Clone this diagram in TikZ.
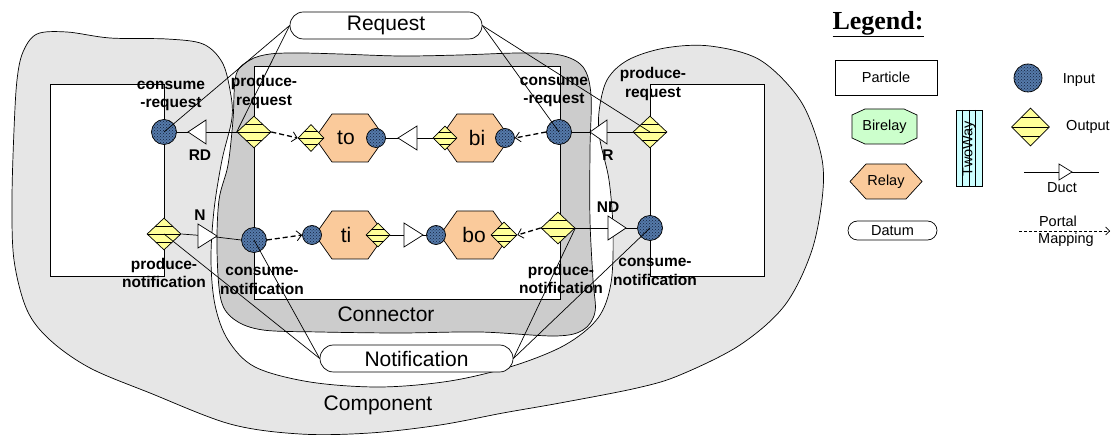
\documentclass[tikz,border=0pt]{standalone}
\usepackage{fontspec}
\setmainfont{Liberation Sans}
\newfontfamily\legendfont{Liberation Serif}
\usetikzlibrary{calc,arrows.meta,shapes.geometric,patterns}
\definecolor{compgray}{RGB}{230,230,230}
\definecolor{conngray}{RGB}{204,204,204}
\definecolor{relayc}{RGB}{250,202,155}
\definecolor{birelayc}{RGB}{204,255,204}
\definecolor{twowayc}{RGB}{204,255,255}
\definecolor{outc}{RGB}{255,255,153}
\definecolor{incl}{RGB}{85,122,170}
\definecolor{incd}{RGB}{20,32,60}
\newcommand\hexat[5]{\filldraw[fill=relayc] (#1-#3,#2) -- (#1-#3+#5,#2-#4) -- (#1+#3-#5,#2-#4) -- (#1+#3,#2) -- (#1+#3-#5,#2+#4) -- (#1-#3+#5,#2+#4) -- cycle;}
\newcommand\ductR[3]{\filldraw[fill=white] ($(#1)+(#2,0)$) -- ($(#1)+(-#2,-#3)$) -- ($(#1)+(-#2,#3)$) -- cycle;}
\newcommand\ductL[3]{\filldraw[fill=white] ($(#1)+(-#2,0)$) -- ($(#1)+(#2,-#3)$) -- ($(#1)+(#2,#3)$) -- cycle;}
\begin{document}
\begin{tikzpicture}[x=1pt,y=-1pt,line width=0.7pt,
  every node/.style={inner sep=0pt},
  inport/.style={circle,draw,preaction={fill=incl},pattern=crosshatch dots,pattern color=incd,minimum size=#1},
  inport/.default=25pt,
  outport/.style 2 args={diamond,draw,fill=outc,minimum width=#1,minimum height=#2,
    path picture={\draw[line width=0.5pt]
      ($(path picture bounding box.north west)!0.25!(path picture bounding box.south west)$) -- ($(path picture bounding box.north east)!0.25!(path picture bounding box.south east)$)
      (path picture bounding box.west) -- (path picture bounding box.east)
      ($(path picture bounding box.north west)!0.75!(path picture bounding box.south west)$) -- ($(path picture bounding box.north east)!0.75!(path picture bounding box.south east)$);}},
  lbl/.style={font=\bfseries\fontsize{15.5}{18.5}\selectfont,align=center},
  big/.style={font=\fontsize{21}{25}\selectfont},
  leg/.style={font=\fontsize{14.5}{17}\selectfont},
  datum/.style={draw,fill=white,rounded corners=#1},
  portal/.style={dash pattern=on 5pt off 3pt,line width=1.3pt,-{Straight Barb[length=5pt,width=10pt,line width=0.8pt]}},
  particle/.style={draw,fill=white}
]
\useasboundingbox (0,0) rectangle (1112,435);

% Component blob
\filldraw[fill=compgray] plot[smooth cycle, tension=0.55] coordinates {
 (23,52) (37,34) (67,32) (110,38) (167,39) (203,44) (222,62) (230,90) (232,118)
 (222,160) (214,210) (211,260) (215,305) (228,340) (255,367) (310,382) (380,387)
 (450,381) (513,366) (565,345) (598,318) (611,283) (613,230) (609,180) (600,140)
 (599,112) (607,80) (628,60) (665,48) (710,46) (760,60) (800,100) (820,150)
 (823,190) (812,250) (785,305) (740,345) (680,375) (637,388) (560,403) (503,413)
 (440,425) (370,433) (300,434) (230,424) (150,393) (90,368) (50,340) (27,310)
 (14,260) (12,200) (14,130) (17,80)};
% Connector blob
\filldraw[fill=conngray] plot[smooth cycle, tension=0.55] coordinates {
 (236,75) (250,60) (270,54) (300,53) (340,54) (400,56) (460,55) (520,53) (560,55)
 (583,67) (591,95) (590,150) (590,220) (593,280) (595,312) (583,330) (555,336)
 (480,332) (400,333) (320,332) (263,330) (235,320) (221,300) (217,250) (219,200)
 (228,165) (233,120)};

% particles
\node[particle,minimum width=114pt,minimum height=192pt] (pL) at (107,180) {};
\node[particle,minimum width=306pt,minimum height=233pt] (cw) at (407,182.5) {};
\node[particle,minimum width=114pt,minimum height=192pt] (pR) at (707,180) {};

\node[big] (conntxt) at (386,314) {Connector};
\node[big] (comptxt) at (378,405) {Component};

% duct positions
\coordinate (RD) at (197,132);
\coordinate (N) at (207.5,236);
\coordinate (R) at (598.5,132);
\coordinate (ND) at (617,228);
\coordinate (d1) at (407.5,138);
\coordinate (d2) at (413.5,235);

% relays
\hexat{350}{138}{35}{24}{17}
\hexat{475}{138}{35}{24}{17}
\hexat{350}{235}{35}{24}{17}
\hexat{475}{235}{35}{24}{17}
\node[big] (to) at (346,138) {to};
\node[big] (bi) at (477,138) {bi};
\node[big] (ti) at (346,235) {ti};
\node[big] (bo) at (474,235) {bo};

% port nodes
\node[inport] (crL) at (164,132) {};
\node[outport={34pt}{32pt}] (pnL) at (164,234) {};
\node[outport={34pt}{32pt}] (prLc) at (254,132) {};
\node[inport] (cnLc) at (254,240) {};
\node[inport] (crRc) at (559,132) {};
\node[outport={34pt}{32pt}] (pnRc) at (558,228) {};
\node[outport={34pt}{32pt}] (prR) at (650,132) {};
\node[inport] (cnR) at (650,228) {};

\node[outport={26pt}{27pt}] (toD) at (311,138) {};
\node[inport=19pt] (toC) at (376,138) {};
\node[outport={24pt}{24pt}] (biD) at (445,138) {};
\node[inport=19pt] (biC) at (505,138) {};
\node[inport=19pt] (tiC) at (312,235) {};
\node[outport={24pt}{24pt}] (tiD) at (378,235) {};
\node[inport=19pt] (boC) at (436,235) {};
\node[outport={26pt}{26pt}] (boD) at (504,235) {};

% duct lines
\draw (prLc.west) -- (crL.east);
\draw (pnL.east) -- (N) -- (cnLc.west);
\draw (prR.west) -- (crRc.east);
\draw (pnRc.east) -- (cnR.west);
\draw (biD.west) -- (toC.east);
\draw (tiD.east) -- (boC.west);
\ductL{RD}{9}{12}
\ductR{N}{9.5}{12}
\ductL{R}{8.5}{12}
\ductR{ND}{9}{12}
\ductL{d1}{9.5}{12}
\ductR{d2}{9.5}{12}

% portal mappings
\draw[portal] (prLc.east) -- (toD.west);
\draw[portal] (crRc.west) -- (biC.east);
\draw[portal] (cnLc.east) -- (tiC.west);
\draw[portal] (pnRc.west) -- (boD.east);

% datums
\node[datum=13.5pt,big,minimum width=192pt,minimum height=27pt] (req) at (386,25.5) {Request};
\node[datum=13.5pt,big,minimum width=193pt,minimum height=27pt] (notif) at (416.5,358.5) {Notification};
\draw (req.west) -- (crL.center);
\draw (req.west) -- (prLc.west);
\draw (req.east) -- (crRc.center);
\draw (req.east) -- (prR.center);
\draw (notif.west) -- (pnL.center);
\draw (notif.west) -- (cnLc.center);
\draw (notif.east) -- (pnRc.east);
\draw (notif.east) -- (cnR.center);

% labels
\node[lbl] (l1) at (171,96) {consume\\-request};
\node[lbl] (l2) at (264,92) {produce-\\request};
\node[lbl] (l3) at (554,92) {consume\\-request};
\node[lbl] (l4) at (653,84) {produce-\\request};
\node[lbl] (l5) at (164,273) {produce-\\notification};
\node[lbl] (l6) at (262,281) {consume-\\notification};
\node[lbl] (l7) at (561,279) {produce-\\notification};
\node[lbl] (l8) at (655,272) {consume-\\notification};
\node[lbl] (lRD) at (200,155) {RD};
\node[lbl] (lN) at (200,215) {N};
\node[lbl] (lR) at (608,155) {R};
\node[lbl] (lND) at (608,207) {ND};

% legend
\node[font=\legendfont\bfseries\fontsize{26}{30}\selectfont] (legt) at (878,24) {\underline{Legend:}};
\node[particle,leg,minimum width=102pt,minimum height=35pt] (lgP) at (886,77.5) {Particle};
\filldraw[fill=birelayc] (852,115) -- (865,109) -- (904,109) -- (917,115) -- (917,138) -- (904,144) -- (865,144) -- (852,138) -- cycle;
\node[leg] (lgB) at (884.5,126.5) {Birelay};
\hexat{886}{181.5}{36}{17.5}{16}
\node[leg] (lgR) at (886,181.5) {Relay};
\node[datum=9.5pt,leg,minimum width=89pt,minimum height=19pt] (lgD) at (892.5,230.5) {Datum};
\node[draw,fill=twowayc,minimum width=26pt,minimum height=76pt] (lgT) at (969,148) {};
\draw (962.5,110) -- (962.5,186) (969,110) -- (969,186) (975.5,110) -- (975.5,186);
\node[leg,rotate=90] (lgTt) at (969,148.5) {TwoWay};
\node[inport=28pt] (lgI) at (1028,78) {};
\node[leg] (lgIt) at (1079,80) {Input};
\node[outport={38pt}{38pt}] (lgO) at (1030.5,127) {};
\node[leg] (lgOt) at (1088,127) {Output};
\coordinate (lgDa) at (1024,172);
\coordinate (lgDb) at (1099,172);
\coordinate (lgDm) at (1065.5,172);
\draw (lgDa) -- (lgDb);
\ductR{lgDm}{6.5}{8}
\node[leg] (lgDt) at (1062,188) {Duct};
\coordinate (lgPa) at (1019,231);
\coordinate (lgPb) at (1110,231);
\draw[dash pattern=on 3pt off 2pt,line width=0.7pt,-{Straight Barb[length=4pt,width=8pt]}] (lgPa) -- (lgPb);
\node[leg] (lgPt1) at (1058,221) {Portal};
\node[leg] (lgPt2) at (1066,240) {Mapping};
\end{tikzpicture}
\end{document}
